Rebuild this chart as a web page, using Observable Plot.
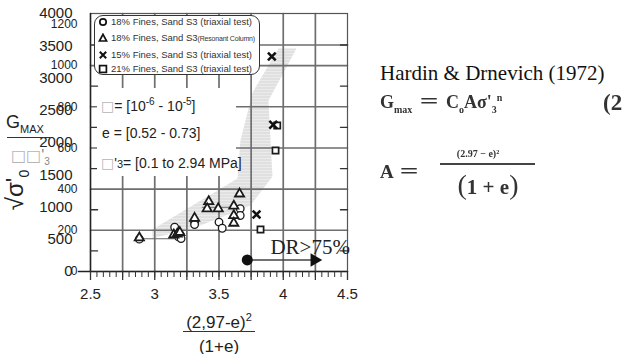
<!DOCTYPE html>
<html><head><meta charset="utf-8">
<script src="https://cdn.jsdelivr.net/npm/d3@7"></script>
<script src="https://cdn.jsdelivr.net/npm/@observablehq/plot@0.6"></script>
<style>
body{margin:0;background:#fff;}
#wrap{position:relative;width:630px;height:354px;overflow:hidden;font-family:Arial,"Liberation Sans",sans-serif;color:#222;}
.abs{position:absolute;white-space:nowrap;line-height:1;}
.vc{transform:translateY(-50%);}
.g{color:#b5b5b5;font-family:"DejaVu Sans",sans-serif;}
.ser{font-family:"Liberation Serif","Times New Roman",serif;}
.eq{font-family:"Liberation Serif","Times New Roman",serif;font-weight:bold;color:#333;filter:blur(0.35px);}
sup,sub{line-height:0;}
</style></head><body><div id="wrap"></div>
<script>
// ---- axis ticks / labels ----
const xDomain = [2.5, 4.5];
const xTickLabels = [2.5, 3, 3.5, 4, 4.5];
const xGrid = [2.75, 3, 3.25, 3.5, 3.75, 4, 4.25];
const xMajorTicks = [2.5, 2.75, 3, 3.25, 3.5, 3.75, 4, 4.25, 4.5];
const xMinorTicks = d3.range(2.5, 4.5001, 0.05);
const PRIMARY_MAX = 4000;
const SECONDARY_MAX = 1253;
const primaryLabels = [0, 500, 1000, 1500, 2000, 2500, 3000, 3500, 4000];
const secondaryLabels = [0, 200, 400, 600, 800, 1000, 1200];
const yGrid = [200, 400, 600, 800, 1000];
const yMinorTicks = [100, 300, 500, 700, 900, 1100];

// ---- data series (x = (2.97-e)^2/(1+e), y = Gmax / sqrt(sigma'3)) ----
const fines18Triaxial = [ // circles
  {x: 2.88, y: 157}, {x: 3.155, y: 215}, {x: 3.185, y: 168}, {x: 3.20, y: 176},
  {x: 3.205, y: 160}, {x: 3.31, y: 239}, {x: 3.31, y: 228}, {x: 3.50, y: 240},
  {x: 3.525, y: 210}, {x: 3.665, y: 305}, {x: 3.665, y: 272}
];
const fines18RC = [ // triangles
  {x: 2.88, y: 164}, {x: 3.148, y: 178}, {x: 3.175, y: 182}, {x: 3.195, y: 190},
  {x: 3.31, y: 259}, {x: 3.42, y: 340}, {x: 3.408, y: 305}, {x: 3.494, y: 305},
  {x: 3.615, y: 318}, {x: 3.615, y: 272}, {x: 3.615, y: 235}, {x: 3.66, y: 377}
];
const fines15Triaxial = [ // crosses
  {x: 3.792, y: 277}, {x: 3.922, y: 713}, {x: 3.911, y: 1044}
];
const fines21Triaxial = [ // squares
  {x: 3.823, y: 204}, {x: 3.953, y: 709}, {x: 3.94, y: 588}
];
const shadeBand = [
  {x: 2.982, y: 160}, {x: 2.982, y: 204}, {x: 3.644, y: 452}, {x: 3.667, y: 636},
  {x: 3.761, y: 869}, {x: 3.963, y: 1083}, {x: 4.103, y: 1083}, {x: 3.885, y: 831},
  {x: 3.916, y: 461}, {x: 3.745, y: 321}, {x: 3.356, y: 223}
];
const connectorLow = [{x: 2.884, y: 159}, {x: 3.15, y: 159}];
const connectorHigh = [{x: 3.37, y: 312}, {x: 3.65, y: 312}];
const drArrow = [{x: 3.72, y: 56}, {x: 4.243, y: 56}];
const drLabel = [{x: 3.90, y: 117, text: "DR>75%"}];

const gridStroke = "#6e6e6e";
const mk = {stroke: "#1a1a1a", fill: "white"};
const TICK = 0.055; // inner tick length in x units

const hGridPts = yGrid.flatMap((v, i) => [{x: xDomain[0], y: v, id: "h" + i}, {x: xDomain[1], y: v, id: "h" + i}])
  .concat([{x: 3.75, y: 1100, id: "hp"}, {x: xDomain[1], y: 1100, id: "hp"}]);
const vGridPts = xGrid.flatMap((v, i) => [{x: v, y: 0, id: "v" + i}, {x: v, y: SECONDARY_MAX, id: "v" + i}]);
const tickPts = yMinorTicks.flatMap((v, i) => [
  {x: xDomain[0], y: v, id: "l" + i}, {x: xDomain[0] + TICK, y: v, id: "l" + i},
  {x: xDomain[1] - TICK, y: v, id: "r" + i}, {x: xDomain[1], y: v, id: "r" + i}]);
const axisPts = [
  {x: xDomain[0] - 0.094, y: 0, id: "b"}, {x: xDomain[1], y: 0, id: "b"},
  {x: xDomain[0], y: 0, id: "l"}, {x: xDomain[0], y: SECONDARY_MAX, id: "l"}];

const plot = Plot.plot({
  width: 630, height: 354,
  marginLeft: 90, marginRight: 283, marginTop: 13, marginBottom: 83,
  x: {domain: xDomain, axis: null},
  y: {domain: [0, SECONDARY_MAX], axis: null},
  style: {fontFamily: "Arial, 'Liberation Sans', sans-serif", background: "transparent", color: "#222"},
  marks: [
    Plot.line(shadeBand, {x: "x", y: "y", curve: "linear-closed", fill: "url(#stipple)", stroke: "none"}),
    Plot.line(hGridPts, {x: "x", y: "y", z: "id", stroke: gridStroke, strokeWidth: 1.6}),
    Plot.line(vGridPts, {x: "x", y: "y", z: "id", stroke: gridStroke, strokeWidth: 1.7}),
    Plot.frame({stroke: "#555", strokeWidth: 1.2, fill: "none"}),
    Plot.line(axisPts, {x: "x", y: "y", z: "id", stroke: "#222", strokeWidth: 1.5}),
    Plot.line(tickPts, {x: "x", y: "y", z: "id", stroke: "#333", strokeWidth: 1.3}),
    Plot.axisX(xMinorTicks, {tickSize: 6, tickFormat: () => "", label: null, stroke: "#333"}),
    Plot.axisX(xMajorTicks, {tickSize: 9, tickFormat: () => "", label: null, stroke: "#333", strokeWidth: 1.3}),
    Plot.text(xTickLabels, {x: d => d, frameAnchor: "bottom", dy: 27, text: d => String(d), fontSize: 15, fill: "#222"}),
    Plot.text(primaryLabels, {y: d => d * SECONDARY_MAX / PRIMARY_MAX, text: d => String(d), frameAnchor: "left", textAnchor: "end", dx: -18, fontSize: 15, fill: "#222"}),
    Plot.text(secondaryLabels, {y: d => d, text: d => String(d), frameAnchor: "left", textAnchor: "end", dx: -13, fontSize: 12, fill: "#222"}),
    Plot.line(connectorLow, {x: "x", y: "y", stroke: "#666", strokeWidth: 1.2}),
    Plot.line(connectorHigh, {x: "x", y: "y", stroke: "#666", strokeWidth: 1.2}),
    Plot.dot(fines18Triaxial, {x: "x", y: "y", symbol: "circle", r: 3.8, strokeWidth: 1.3, ...mk}),
    Plot.dot(fines18RC, {x: "x", y: "y", symbol: "triangle", r: 3.4, strokeWidth: 1.8, ...mk}),
    Plot.dot(fines21Triaxial, {x: "x", y: "y", symbol: "square", r: 3.5, strokeWidth: 1.7, ...mk}),
    Plot.dot(fines15Triaxial, {x: "x", y: "y", symbol: "times", r: 3.6, strokeWidth: 2.6, stroke: "#111"}),
    Plot.line(drArrow, {x: "x", y: "y", stroke: "#444", strokeWidth: 1.5}),
    Plot.dot(drArrow.slice(0, 1), {x: "x", y: "y", r: 5.5, fill: "#111"}),
    Plot.dot(drArrow.slice(1), {x: "x", y: "y", symbol: "triangle", rotate: 90, r: 5, fill: "#111"}),
    Plot.text(drLabel, {x: "x", y: "y", text: "text", textAnchor: "start", fontFamily: "'Liberation Serif','Times New Roman',serif", fontSize: 21, fill: "#222"})
  ]
});

const svg = d3.select(plot);
svg.style("overflow", "visible");
const defs = svg.insert("defs", ":first-child");
const pat = defs.append("pattern").attr("id", "stipple").attr("width", 2).attr("height", 3).attr("patternUnits", "userSpaceOnUse");
pat.append("rect").attr("x", 0).attr("y", 0).attr("width", 2).attr("height", 3).attr("fill", "#f2f2f2");
pat.append("rect").attr("x", 0).attr("y", 0).attr("width", 1).attr("height", 1).attr("fill", "#b8b8b8");
pat.append("rect").attr("x", 1).attr("y", 1.5).attr("width", 1).attr("height", 1).attr("fill", "#d4d4d4");

const wrap = document.getElementById("wrap");
plot.style.position = "absolute";
plot.style.left = "0px";
plot.style.top = "0px";
wrap.appendChild(plot);

function add(html, css) {
  const d = document.createElement("div");
  d.className = "abs";
  d.innerHTML = html;
  Object.assign(d.style, css);
  wrap.appendChild(d);
  return d;
}

// legend
const legendItems = [
  {sym: "circle", label: "18% Fines, Sand S3 (triaxial test)"},
  {sym: "triangle", label: "18% Fines, Sand S3<span style=\"font-size:7px;letter-spacing:-0.2px\">(Resonant Column)</span>"},
  {sym: "times", label: "15% Fines, Sand S3 (triaxial test)"},
  {sym: "square", label: "21% Fines, Sand S3 (triaxial test)"}
];
const legendRowY = [7, 23, 39.5, 53.5];
const symSvg = {
  circle: '<circle cx="5" cy="5" r="3.2" fill="white" stroke="#111" stroke-width="1.7"/>',
  triangle: '<path d="M5,1.3 L8.6,8 L1.4,8 Z" fill="white" stroke="#111" stroke-width="1.7"/>',
  times: '<path d="M1.8,1.8 L8.2,8.2 M8.2,1.8 L1.8,8.2" stroke="#111" stroke-width="2"/>',
  square: '<rect x="1.6" y="1.6" width="6.8" height="6.8" fill="white" stroke="#111" stroke-width="1.7"/>'
};
const legend = add("", {left: "94px", top: "15px", width: "166px", height: "60px", boxSizing: "border-box",
  border: "1.3px solid #333", borderRadius: "9px", background: "white"});
legendItems.forEach((it, i) => {
  const row = document.createElement("div");
  row.className = "abs vc";
  row.style.left = "3px";
  row.style.top = (legendRowY[i] - 1) + "px";
  row.style.fontSize = "9.5px";
  row.style.color = "#333";
  row.style.display = "flex";
  row.style.alignItems = "center";
  row.innerHTML = '<svg width="10" height="10" style="margin-right:3px">' + symSvg[it.sym] + '</svg><span>' + it.label + '</span>';
  legend.appendChild(row);
});

// annotation box
add("", {left: "97px", top: "88px", width: "139px", height: "88px", background: "white"});
add('<span class="g">□</span>= [10<sup style="font-size:10px">-6</sup> - 10<sup style="font-size:10px">-5</sup>]', {left: "101px", top: "106px", fontSize: "14px"}).classList.add("vc");
add('e = [0.52 - 0.73]', {left: "102px", top: "133px", fontSize: "14px"}).classList.add("vc");
add('<span class="g">□</span>\'<span style="font-size:11px">3</span>= [0.1 to 2.94 MPa]', {left: "101px", top: "163px", fontSize: "14px"}).classList.add("vc");

// y-axis title
add('G<sub style="font-size:11px">MAX</sub>', {left: "6px", top: "122px", fontSize: "18px"}).classList.add("vc");
add("", {left: "7px", top: "137px", width: "43px", height: "1.3px", background: "#333"});
add('<span class="g">□□</span><span style="color:#888">\'</span><sub style="font-size:10px;color:#888">3</sub>', {left: "11px", top: "156px", fontSize: "16px"}).classList.add("vc");
add('√σ\'<sub style="font-size:14px">0</sub>', {left: "15px", top: "190px", fontSize: "24px", transform: "translate(-50%,-50%) rotate(-90deg)"});

// x-axis title
add('(2,97-e)<sup style="font-size:11px">2</sup>', {left: "219px", top: "322px", fontSize: "17px", transform: "translate(-50%,-50%)"});
add("", {left: "183px", top: "331px", width: "72px", height: "1.2px", background: "#333"});
add('(1+e)', {left: "219px", top: "346px", fontSize: "17px", transform: "translate(-50%,-50%)"});

// right-hand text
add('Hardin &amp; Drnevich (1972)', {left: "380px", top: "73px", fontSize: "21px", color: "#111"}).classList.add("vc", "ser");
add('G<sub style="font-size:10px">max</sub> <span style="display:inline-block;transform:scaleX(1.5);font-size:22px;margin:0 6px">=</span> C<sub style="font-size:10px">o</sub>Aσ\'<sub style="font-size:10px">3</sub><sup style="font-size:10px">n</sup>', {left: "380px", top: "101px", fontSize: "18px"}).classList.add("vc", "eq");
add('(2', {left: "603px", top: "102px", fontSize: "23px"}).classList.add("vc", "eq");
add('A <span style="display:inline-block;transform:scaleX(1.5);font-size:22px;margin-left:6px">=</span>', {left: "380px", top: "171px", fontSize: "19px"}).classList.add("vc", "eq");
add('(2.97 − e)²', {left: "478px", top: "154px", fontSize: "10px", transform: "translate(-50%,-50%)"}).classList.add("eq");
add("", {left: "440px", top: "163px", width: "95px", height: "2px", background: "#444", filter: "blur(0.4px)"});
add('<span style="font-size:28px;font-weight:normal">(</span>1 + e<span style="font-size:28px;font-weight:normal">)</span>', {left: "488px", top: "185px", fontSize: "21px", transform: "translate(-50%,-50%)"}).classList.add("eq");
</script></body></html>
